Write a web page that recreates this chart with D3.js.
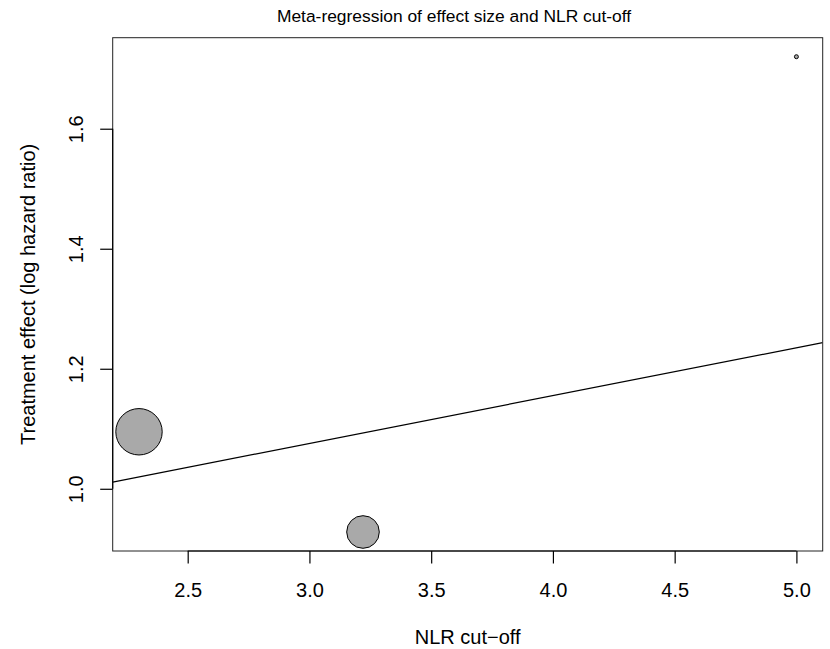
<!DOCTYPE html>
<html>
<head>
<meta charset="utf-8">
<script src="https://cdn.jsdelivr.net/npm/d3@7"></script>
<style>
  body { margin: 0; background: #fff; }
  svg { display: block; font-family: "Liberation Sans", Arial, Helvetica, sans-serif; }
</style>
</head>
<body>
<script>
// ---- data ----
const nlrCutoff = [2.30, 3.22, 5.00];
const logHR = [1.095, 0.928, 1.720];
const studyWeight = [55.9, 39.3, 4.8];
const xTicks = [2.5, 3.0, 3.5, 4.0, 4.5, 5.0];
const yTicks = [1.0, 1.2, 1.4, 1.6];
const regIntercept = 0.8364;
const regSlope = 0.0797;
const title = "Meta-regression of effect size and NLR cut-off";
const xLabel = "NLR cut\u2212off";
const yLabel = "Treatment effect (log hazard ratio)";

// ---- layout ----
const W = 830, H = 649;
const L = 112.7, R = 822.7, T = 37.7, B = 551;
const FS = 20;

const svg = d3.select("body").append("svg").attr("width", W).attr("height", H);

// R-style 4% extension
const xr = d3.extent(nlrCutoff), yr = d3.extent(logHR);
const xe = (xr[1] - xr[0]) * 0.04, ye = (yr[1] - yr[0]) * 0.04;
const x = d3.scaleLinear().domain([xr[0] - xe, xr[1] + xe]).range([L, R]);
const y = d3.scaleLinear().domain([yr[0] - ye, yr[1] + ye]).range([B, T]);
const r = d3.scaleLinear().domain([0, d3.max(studyWeight)]).range([0, 23.2]);

svg.append("defs").append("clipPath").attr("id", "clip")
  .append("rect").attr("x", L).attr("y", T).attr("width", R - L).attr("height", B - T);

// regression line
const xd = x.domain();
svg.append("line")
  .attr("clip-path", "url(#clip)")
  .attr("x1", x(xd[0])).attr("y1", y(regIntercept + regSlope * xd[0]))
  .attr("x2", x(xd[1])).attr("y2", y(regIntercept + regSlope * xd[1]))
  .attr("stroke", "#000").attr("stroke-width", 1.2);

// points
svg.append("g").selectAll("circle")
  .data(nlrCutoff.map((v, i) => ({ x: v, y: logHR[i], w: studyWeight[i] })))
  .join("circle")
  .attr("cx", d => x(d.x)).attr("cy", d => y(d.y)).attr("r", d => r(d.w))
  .attr("fill", "#a9a9a9").attr("stroke", "#000").attr("stroke-width", 1);

// box
svg.append("rect").attr("x", L).attr("y", T).attr("width", R - L).attr("height", B - T)
  .attr("fill", "none").attr("stroke", "#222").attr("stroke-width", 1);

// x axis
const xa = svg.append("g").attr("transform", `translate(0,${B})`)
  .call(d3.axisBottom(x).tickValues(xTicks).tickFormat(d3.format(".1f")).tickSize(12.5));
xa.select(".domain").remove();
xa.append("line").attr("x1", x(xTicks[0])).attr("x2", x(xTicks[xTicks.length - 1]))
  .attr("stroke", "#000").attr("stroke-width", 1.2);
xa.selectAll(".tick line").attr("stroke", "#000").attr("stroke-width", 1.2);
xa.selectAll(".tick text")
  .attr("font-size", FS).attr("font-family", "Liberation Sans, Arial, sans-serif").attr("fill", "#000")
  .attr("dy", null).attr("y", 46);

// y axis
const ya = svg.append("g").attr("transform", `translate(${L},0)`)
  .call(d3.axisLeft(y).tickValues(yTicks).tickFormat(d3.format(".1f")).tickSize(12.5));
ya.select(".domain").remove();
ya.append("line").attr("y1", y(yTicks[0])).attr("y2", y(yTicks[yTicks.length - 1]))
  .attr("stroke", "#000").attr("stroke-width", 1.2);
ya.selectAll(".tick line").attr("stroke", "#000").attr("stroke-width", 1.2);
ya.selectAll(".tick text")
  .attr("font-size", FS).attr("font-family", "Liberation Sans, Arial, sans-serif").attr("fill", "#000")
  .attr("x", null).attr("dy", null)
  .attr("text-anchor", "middle")
  .attr("transform", "translate(-29.7,0) rotate(-90)");

// title
svg.append("text").attr("x", 454).attr("y", 22).attr("text-anchor", "middle")
  .attr("font-size", 17.4).text(title);

// x label
svg.append("text").attr("x", (L + R) / 2).attr("y", 644).attr("text-anchor", "middle")
  .attr("font-size", FS).text(xLabel);

// y label
svg.append("text").attr("transform", `translate(35,${(T + B) / 2}) rotate(-90)`)
  .attr("text-anchor", "middle").attr("font-size", FS).text(yLabel);
</script>
</body>
</html>
